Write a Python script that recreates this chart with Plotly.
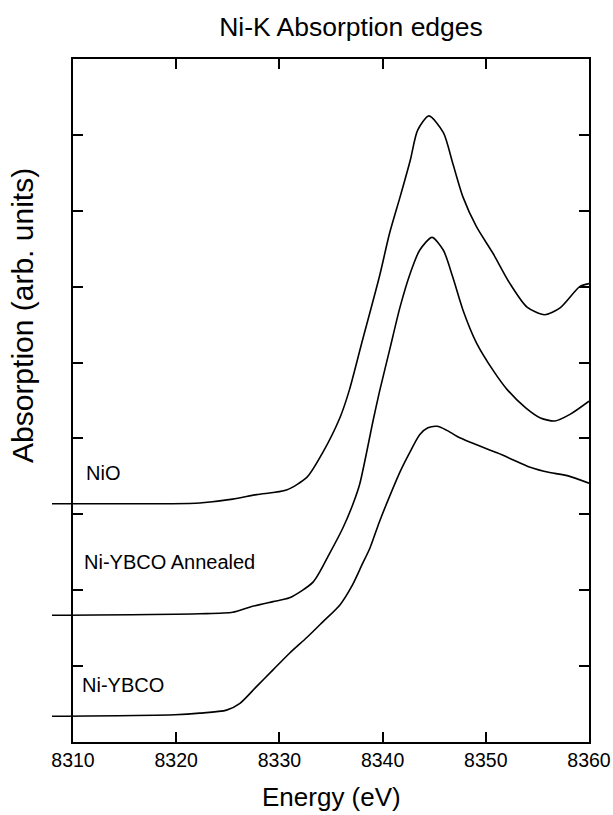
import plotly.graph_objects as go

W, H = 613, 815

# ---- data ----
nio_energy = [8308, 8319.4, 8322.3, 8325.5, 8327.8, 8330.7, 8332.7, 8334.2, 8335.9,
              8336.8, 8338.0, 8339.7, 8340.7, 8341.7, 8342.7, 8343.4, 8344.5, 8345.9,
              8346.8, 8347.8, 8349.1, 8350.7, 8352.3, 8354.0, 8355.7, 8357.2, 8359.1, 8360]
nio_abs = [3.14, 3.14, 3.15, 3.20, 3.26, 3.32, 3.49, 3.81, 4.28,
           4.64, 5.26, 6.13, 6.71, 7.18, 7.67, 8.06, 8.25, 8.03,
           7.63, 7.18, 6.79, 6.44, 6.05, 5.73, 5.63, 5.72, 6.00, 6.04]

ann_energy = [8308, 8322.3, 8325.5, 8327.2, 8329.4, 8331.0, 8333.3, 8334.9, 8336.2,
              8337.1, 8337.8, 8339.1, 8339.7, 8340.7, 8341.7, 8342.7, 8343.6, 8344.8,
              8345.9, 8346.8, 8347.8, 8349.1, 8350.7, 8352.1, 8353.9, 8355.3, 8356.7,
              8358.2, 8360]
ann_abs = [1.67, 1.69, 1.71, 1.78, 1.85, 1.90, 2.11, 2.49, 2.83,
           3.12, 3.40, 4.24, 4.61, 5.17, 5.73, 6.18, 6.48, 6.65,
           6.48, 6.13, 5.69, 5.26, 4.90, 4.64, 4.40, 4.27, 4.23,
           4.32, 4.49]

ybco_energy = [8308, 8319.9, 8322.3, 8324.9, 8326.2, 8327.8, 8329.4, 8331.0, 8332.7,
               8334.2, 8335.9, 8337.1, 8338.0, 8338.8, 8339.7, 8340.7, 8341.7, 8342.7,
               8343.6, 8344.4, 8345.3, 8346.2, 8347.2, 8348.5, 8351.1, 8352.3, 8354.3,
               8356.2, 8357.9, 8360]
ybco_abs = [0.34, 0.36, 0.38, 0.42, 0.51, 0.73, 0.95, 1.17, 1.38,
            1.58, 1.81, 2.07, 2.33, 2.56, 2.90, 3.24, 3.56, 3.83,
            4.05, 4.14, 4.16, 4.11, 4.03, 3.95, 3.81, 3.74, 3.62,
            3.55, 3.51, 3.41]

series_names = ["NiO", "Ni-YBCO Annealed", "Ni-YBCO"]
x_ticks = [8310, 8320, 8330, 8340, 8350, 8360]
y_ticks = list(range(0, 10))

# ---- layout helpers (pixel -> paper) ----
def px(x):
    return x / W

def py(y):
    return 1 - y / H

FONT = "Liberation Sans, Arial, sans-serif"
LEFT, RIGHT, TOP, BOTTOM = 73, 589, 59, 742
DATA_LEFT = 52

fig = go.Figure()
for xs, ys, name in [(nio_energy, nio_abs, series_names[0]),
                     (ann_energy, ann_abs, series_names[1]),
                     (ybco_energy, ybco_abs, series_names[2])]:
    fig.add_trace(go.Scatter(x=xs, y=ys, mode="lines", name=name,
                             line=dict(color="black", width=1.6, shape="spline", smoothing=0.7),
                             xaxis="x", yaxis="y", showlegend=False, hoverinfo="skip"))

# empty trace so the framed (visible) axes subplot is created
fig.add_trace(go.Scatter(x=[], y=[], mode="lines", xaxis="x2", yaxis="y2",
                         showlegend=False, hoverinfo="skip"))

axis_common = dict(showgrid=False, zeroline=False, showline=True, linecolor="black",
                   linewidth=2, ticks="inside", ticklen=10, tickwidth=2, tickcolor="black",
                   mirror="ticks", automargin=False, fixedrange=True)

fig.update_layout(
    width=W, height=H, autosize=False,
    margin=dict(l=0, r=0, t=0, b=0, pad=0, autoexpand=False),
    paper_bgcolor="white", plot_bgcolor="rgba(0,0,0,0)",
    font=dict(family=FONT, color="black"),
    showlegend=False,
    xaxis=dict(domain=[px(DATA_LEFT), px(RIGHT)], range=[8308, 8360], visible=False,
               anchor="y", fixedrange=True, automargin=False),
    yaxis=dict(domain=[py(BOTTOM), py(TOP)], range=[0, 9], visible=False,
               anchor="x", fixedrange=True, automargin=False),
    xaxis2=dict(domain=[px(LEFT), px(RIGHT)], range=[8310, 8360], anchor="y2",
                tickmode="array", tickvals=x_ticks, ticktext=[str(t) for t in x_ticks],
                tickfont=dict(size=19.5, family=FONT), ticklabelstandoff=0, **axis_common),
    yaxis2=dict(domain=[py(BOTTOM), py(TOP)], range=[0, 9], anchor="x2",
                tickmode="array", tickvals=y_ticks, showticklabels=False, **axis_common),
    title=dict(text="Ni-K Absorption edges", x=px(351), xanchor="center",
               y=py(27), yanchor="middle", xref="paper", yref="paper", automargin=False,
               font=dict(size=26.5, family=FONT)),
)

ann_font = dict(size=20, family=FONT, color="black")
fig.add_annotation(text=series_names[0], x=px(84), y=py(473), xref="paper", yref="paper",
                   xanchor="left", yanchor="middle", showarrow=False, font=ann_font)
fig.add_annotation(text=series_names[1], x=px(82), y=py(562), xref="paper", yref="paper",
                   xanchor="left", yanchor="middle", showarrow=False, font=ann_font)
fig.add_annotation(text=series_names[2], x=px(80), y=py(685), xref="paper", yref="paper",
                   xanchor="left", yanchor="middle", showarrow=False, font=ann_font)

fig.add_annotation(text="Energy (eV)", x=px(331), y=py(797), xref="paper", yref="paper",
                   xanchor="center", yanchor="middle", showarrow=False,
                   font=dict(size=26, family=FONT, color="black"))
fig.add_annotation(text="Absorption (arb. units)", x=px(22), y=py(316), xref="paper", yref="paper",
                   xanchor="center", yanchor="middle", showarrow=False, textangle=-90,
                   font=dict(size=30, family=FONT, color="black"))

fig.write_html("out.html")
